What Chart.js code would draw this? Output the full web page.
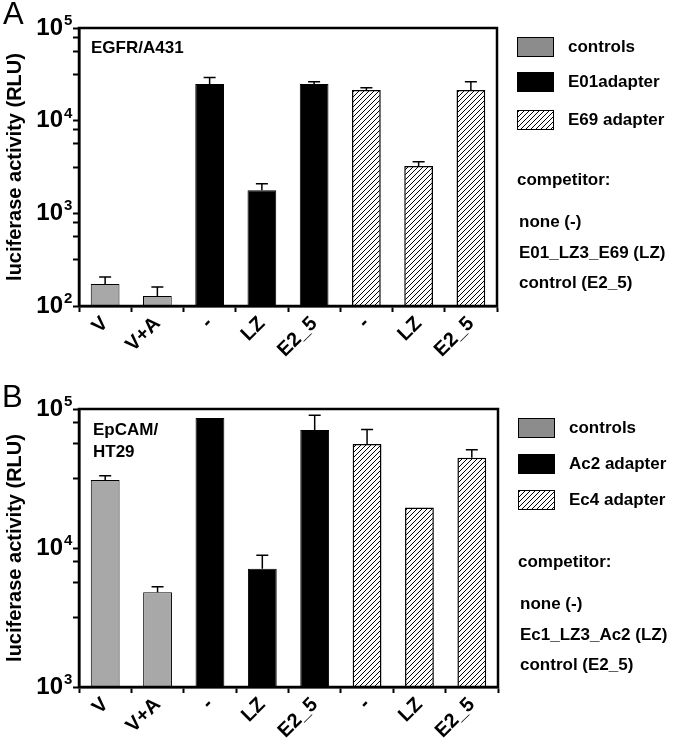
<!DOCTYPE html>
<html>
<head>
<meta charset="utf-8">
<script src="https://cdn.jsdelivr.net/npm/chart.js@4/dist/chart.umd.min.js"></script>
<style>
body { margin: 0; background: #fff; }
canvas { display: block; }
</style>
</head>
<body>
<canvas id="chartA" width="677" height="376"></canvas>
<canvas id="chartB" width="677" height="376"></canvas>
<script>
// categories shared by both panels
const categories = ['V', 'V+A', '-', 'LZ', 'E2_5', '-', 'LZ', 'E2_5'];

// panel A: EGFR/A431
const controlsA = [173, 128, null, null, null, null, null, null];
const e01A = [null, null, 24800, 1770, 24800, null, null, null];
const e69A = [null, null, null, null, null, 21400, 3240, 21400];
const sdA = [32, 32, 4500, 320, 1500, 1200, 360, 4900];
const seriesA = ['controls', 'E01adapter', 'E69 adapter'];
const competitorsA = ['none (-)', 'E01_LZ3_E69 (LZ)', 'control (E2_5)'];
const noteA = ['EGFR/A431'];

// panel B: EpCAM/HT29
const controlsB = [30800, 4800, null, null, null, null, null, null];
const ac2B = [null, null, 86100, 7100, 70600, null, null, null];
const ec4B = [null, null, null, null, null, 56000, 19600, 44600];
const sdB = [2300, 470, 0, 1760, 19500, 15300, 0, 6300];
const seriesB = ['controls', 'Ac2 adapter', 'Ec4 adapter'];
const competitorsB = ['none (-)', 'Ec1_LZ3_Ac2 (LZ)', 'control (E2_5)'];
const noteB = ['EpCAM/', 'HT29'];

// y axis ticks: powers of ten with their exponents
const majorA = [100, 1000, 10000, 100000];
const expA = ['2', '3', '4', '5'];
const majorB = [1000, 10000, 100000];
const expB = ['3', '4', '5'];
const minorSteps = [0.5, 0.75, 0.9];

const FONT = "'Liberation Sans', Arial, sans-serif";
Chart.defaults.font.family = FONT;
Chart.defaults.font.weight = 'bold';
Chart.defaults.color = '#000';

// diagonal "/" hatch inside a rectangle
function hatchRect(ctx, l, t, r, b) {
    ctx.save();
    ctx.beginPath();
    ctx.rect(l, t, r - l, b - t);
    ctx.clip();
    ctx.strokeStyle = '#000';
    ctx.lineWidth = 1;
    ctx.beginPath();
    for (let c = Math.floor((l + t) / 5) * 5; c <= r + b; c += 5) {
        ctx.moveTo(c - t, t);
        ctx.lineTo(c - b, b);
    }
    ctx.stroke();
    ctx.restore();
}

function buildTicks(majors) {
    let list = [];
    majors.forEach((m, i) => {
        list.push({value: m});
        if (i < majors.length - 1) {
            minorSteps.forEach(s => list.push({value: m * Math.pow(10, s)}));
        }
    });
    return list;
}

// hatch on the third series bars
const hatchBars = {
    id: 'hatchBars',
    afterDatasetsDraw(chart) {
        const ds = chart.data.datasets[2];
        chart.getDatasetMeta(2).data.forEach((bar, j) => {
            if (ds.data[j] == null) return;
            const w = bar.width / 2;
            hatchRect(chart.ctx, bar.x - w + 1, bar.y + 1, bar.x + w - 1, bar.base - 1);
        });
    }
};

// error bars drawn from the y scale
const errorBars = {
    id: 'errorBars',
    afterDatasetsDraw(chart, args, opts) {
        const ctx = chart.ctx;
        const y = chart.scales.y;
        ctx.save();
        ctx.strokeStyle = '#000';
        ctx.lineWidth = 1.5;
        chart.data.datasets.forEach((ds, i) => {
            chart.getDatasetMeta(i).data.forEach((bar, j) => {
                const v = ds.data[j];
                if (v == null || !opts.sd[j]) return;
                const top = y.getPixelForValue(v + opts.sd[j]);
                ctx.beginPath();
                ctx.moveTo(bar.x, bar.y);
                ctx.lineTo(bar.x, top);
                ctx.moveTo(bar.x - 6, top);
                ctx.lineTo(bar.x + 6, top);
                ctx.stroke();
            });
        });
        ctx.restore();
    }
};

// plot box, exponents of the y labels, panel letter, note and the side legend
const frame = {
    id: 'frame',
    afterDraw(chart, args, o) {
        const a = chart.chartArea;
        const ctx = chart.ctx;
        ctx.save();
        ctx.strokeStyle = '#000';
        ctx.lineWidth = 2.5;
        ctx.strokeRect(a.left, a.top, a.right - a.left, a.bottom - a.top);

        const y = chart.scales.y;
        ctx.fillStyle = '#000';
        ctx.textAlign = 'left';
        ctx.textBaseline = 'middle';
        ctx.font = 'bold 15px ' + FONT;
        o.majors.forEach((m, i) => {
            ctx.fillText(o.exps[i], 64, y.getPixelForValue(m) - 7);
        });

        // panel letter
        ctx.textBaseline = 'alphabetic';
        ctx.font = '31px ' + FONT;
        ctx.fillText(o.letter, o.letterX, o.letterY);

        ctx.textBaseline = 'middle';
        ctx.font = 'bold 17px ' + FONT;
        o.note.forEach((t, i) => ctx.fillText(t, o.noteX, o.noteY + i * 22));

        // legend swatches
        const lx = o.legendX;
        const swatchFill = ['#8c8c8c', '#000', '#fff'];
        o.series.forEach((label, i) => {
            const sy = o.swatchY[i];
            ctx.fillStyle = swatchFill[i];
            ctx.fillRect(lx, sy, 37, 20);
            if (i === 2) hatchRect(ctx, lx, sy, lx + 37, sy + 20);
            ctx.strokeStyle = '#000';
            ctx.lineWidth = 1;
            ctx.strokeRect(lx + 0.5, sy + 0.5, 36, 19);
            ctx.fillStyle = '#000';
            ctx.fillText(label, lx + 51, sy + 10);
        });
        ctx.fillText('competitor:', lx, o.compY);
        o.competitors.forEach((t, i) => ctx.fillText(t, lx + 2, o.compLineY[i]));
        ctx.restore();
    }
};

function makeChart(id, ctrl, ad1, ad2, sd, majors, exps, padTop, padRight, xHeight, decor) {
    const ctx = document.getElementById(id).getContext('2d');
    const bar = {
        grouped: false,
        barPercentage: 0.55,
        categoryPercentage: 1
    };
    const graphData = {
        labels: categories,
        datasets: [
            Object.assign({data: ctrl, backgroundColor: '#a8a8a8', borderColor: '#000', borderWidth: 1}, bar),
            Object.assign({data: ad1, backgroundColor: '#000', borderColor: '#000', borderWidth: 1}, bar),
            Object.assign({data: ad2, backgroundColor: '#fff', borderColor: '#000', borderWidth: 1.5}, bar)
        ]
    };
    const config = {
        type: 'bar',
        data: graphData,
        options: {
            responsive: false,
            animation: false,
            layout: {padding: {top: padTop, right: padRight, bottom: 0, left: 0}},
            plugins: {
                legend: {display: false},
                tooltip: {enabled: false},
                errorBars: {sd: sd},
                frame: Object.assign({majors: majors, exps: exps}, decor)
            },
            scales: {
                x: {
                    type: 'category',
                    offset: true,
                    grid: {drawOnChartArea: false, tickLength: 6, tickWidth: 2, tickColor: '#000'},
                    border: {display: true, width: 2.5, color: '#000'},
                    ticks: {minRotation: 45, maxRotation: 45, autoSkip: false, padding: 0,
                        font: {size: 20, weight: 'bold'}, color: '#000'},
                    afterFit: s => { s.height = xHeight; }
                },
                y: {
                    type: 'logarithmic',
                    min: majors[0],
                    max: majors[majors.length - 1],
                    afterBuildTicks: s => { s.ticks = buildTicks(majors); },
                    grid: {drawOnChartArea: false, tickLength: 6, tickWidth: 2, tickColor: '#000'},
                    border: {display: true, width: 2.5, color: '#000'},
                    ticks: {
                        autoSkip: false,
                        padding: 10,
                        font: {size: 24, weight: 'bold'},
                        color: '#000',
                        callback: v => (majors.indexOf(v) >= 0 ? '10' : '')
                    },
                    title: {display: true, text: 'luciferase activity (RLU)',
                        font: {size: 20, weight: 'bold'}, color: '#000', padding: {top: 3, bottom: 0}},
                    afterFit: s => { s.width = 79; }
                }
            }
        },
        plugins: [hatchBars, errorBars, frame]
    };
    return new Chart(ctx, config);
}

makeChart('chartA', controlsA, e01A, e69A, sdA, majorA, expA, 28, 180, 70, {
    letter: 'A', letterX: 3, letterY: 24,
    note: noteA, noteX: 91, noteY: 48,
    series: seriesA, competitors: competitorsA,
    legendX: 517, swatchY: [37, 72, 110], compY: 180, compLineY: [222, 253, 283]
});
makeChart('chartB', controlsB, ac2B, ec4B, sdB, majorB, expB, 33, 179, 65, {
    letter: 'B', letterX: 2, letterY: 31,
    note: noteB, noteX: 93, noteY: 54,
    series: seriesB, competitors: competitorsB,
    legendX: 518, swatchY: [42, 78, 114], compY: 186, compLineY: [228, 259, 289]
});
</script>
</body>
</html>
